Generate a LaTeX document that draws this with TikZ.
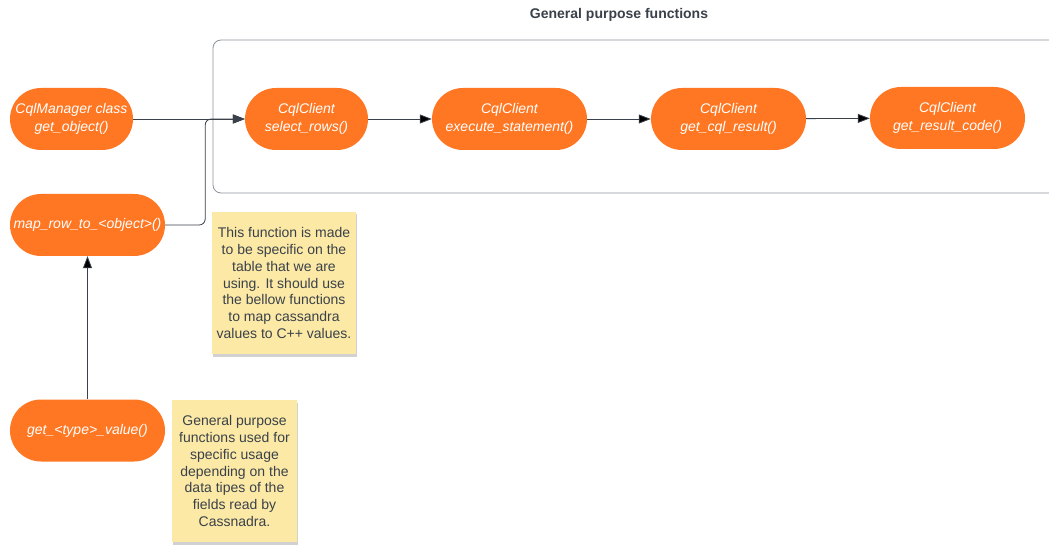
\documentclass[tikz,border=0pt]{standalone}
\usepackage{fontspec}
\setmainfont{Liberation Sans}
\usetikzlibrary{arrows.meta,shadows}
\definecolor{fnorange}{HTML}{FF7722}
\definecolor{notebg}{HTML}{FCE9A6}
\definecolor{inkgray}{HTML}{3A414A}
\definecolor{framegray}{HTML}{8C9299}
\tikzset{
  fn/.style={fill=fnorange,text=white,rounded corners=31pt,minimum height=62pt,
    align=center,font=\fontsize{14}{18}\fontshape{it}\selectfont,inner sep=0pt},
  note/.style={fill=notebg,text=inkgray,align=center,inner sep=0pt,
    font=\fontsize{14}{16.8}\selectfont,
    drop shadow={shadow xshift=1pt,shadow yshift=-2.5pt,fill=black,opacity=0.18}},
  flow/.style={draw=inkgray,line width=0.8pt,-{Triangle[length=12pt,width=9pt]}}
}
\begin{document}
\begin{tikzpicture}[x=1pt,y=-1pt]
  \useasboundingbox[fill=white] (0,0) rectangle (1049,545);
  % group frame, open on the right
  \draw[framegray,line width=0.8pt,rounded corners=8pt] (1060,40) -- (213,40) -- (213,193) -- (1060,193);
  \node (title) [text=inkgray,font=\fontsize{14}{16}\selectfont\bfseries] at (619,15) {General purpose functions};

  \node (manager) [fn,minimum width=123pt] at (71.5,119) {CqlManager class\\get\_object()};
  \node (maprow)  [fn,minimum width=155pt] at (87.5,225) {map\_row\_to\_<object>()};
  \node (getval)  [fn,minimum width=155pt] at (87.5,430.5) {get\_<type>\_value()};

  \node (select)  [fn,minimum width=123pt] at (306.5,119) {CqlClient\\select\_rows()};
  \node (execute) [fn,minimum width=155pt] at (509.5,119) {CqlClient\\execute\_statement()};
  \node (result)  [fn,minimum width=155pt] at (728.5,119) {CqlClient\\get\_cql\_result()};
  \node (code)    [fn,minimum width=155pt] at (947.5,118) {CqlClient\\get\_result\_code()};

  \node (tablenote) [note,minimum width=144pt,minimum height=142pt] at (284,283)
    {This function is made\\to be specific on the\\table that we are\\using. It should use\\the bellow functions\\to map cassandra\\values to C++ values.};
  \node (typenote) [note,minimum width=125pt,minimum height=142pt] at (234.5,471)
    {General purpose\\functions used for\\specific usage\\depending on the\\data tipes of the\\fields read by\\Cassnadra.};

  \path[flow]
    (manager) edge (select)
    (select)  edge (execute)
    (execute) edge (result)
    (result)  edge (code)
    (getval)  edge (maprow);
  \draw[flow,rounded corners=6pt] (maprow.east) -- ++(40,0) |- (select.west);
\end{tikzpicture}
\end{document}
